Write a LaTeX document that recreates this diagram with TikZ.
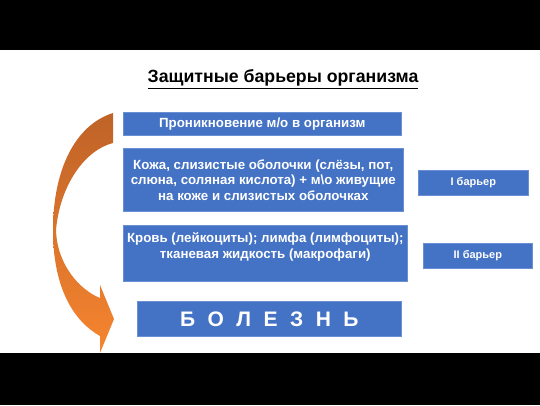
\documentclass[tikz,border=0pt]{standalone}
\usepackage{fontspec}
\setmainfont{Liberation Sans}
\definecolor{boxblue}{HTML}{4472C4}
\definecolor{boxedge}{HTML}{6A8FD4}
\definecolor{arrowtop}{HTML}{BF6328}
\definecolor{arrowbot}{HTML}{F6852F}
\newcommand{\lsp}{\hspace{12.5pt}}
\begin{document}
\begin{tikzpicture}[x=1pt,y=-1pt,
  bluebox/.style={fill=boxblue, draw=boxedge, line width=0.6pt, text=white,
    font=\bfseries\fontsize{13.3}{15.5}\selectfont, align=center, inner sep=0pt, anchor=north west}]
\useasboundingbox (0,0) rectangle (540,405);
\fill[white] (0,0) rectangle (540,405);

\node[font=\bfseries\fontsize{17.7}{20}\selectfont] (title) at (283,79) {\underline{Защитные барьеры организма}};

\node[bluebox, minimum width=278pt, minimum height=23pt] (pen) at (123,112) {Проникновение м/о в организм};
\node[bluebox, minimum width=280pt, minimum height=63pt] (skin) at (123,148) {Кожа, слизистые оболочки (слёзы, пот,\\слюна, соляная кислота) + м\textbackslash о живущие\\на коже и слизистых оболочках};
\node[bluebox, minimum width=284pt, minimum height=56pt] (blood) at (123,225) {Кровь (лейкоциты); лимфа (лимфоциты);\\тканевая жидкость (макрофаги)\\~};
\node[bluebox, minimum width=264pt, minimum height=35pt, font=\bfseries\fontsize{21}{24}\selectfont] (dis) at (137,301) {Б\lsp О\lsp Л\lsp Е\lsp З\lsp Н\lsp Ь};
\node[bluebox, minimum width=110pt, minimum height=25pt, font=\bfseries\fontsize{11}{12}\selectfont] (b1) at (418,170) {I барьер};
\node[bluebox, minimum width=109pt, minimum height=25pt, font=\bfseries\fontsize{11}{12}\selectfont] (b2) at (423,243) {II барьер};

\shade[top color=arrowtop, bottom color=arrowbot]
  (113,113) .. controls (75,125) and (53,170) .. (53,230)
  .. controls (53,290) and (75,322) .. (100,336)
  -- (100,353) -- (114,319) -- (100,285) -- (100,298)
  .. controls (80,290) and (57,265) .. (56,230)
  .. controls (60,185) and (85,150) .. (113,143) -- cycle;

\fill[black] (0,0) rectangle (540,50);
\fill[black] (0,353) rectangle (540,405);
\end{tikzpicture}
\end{document}
